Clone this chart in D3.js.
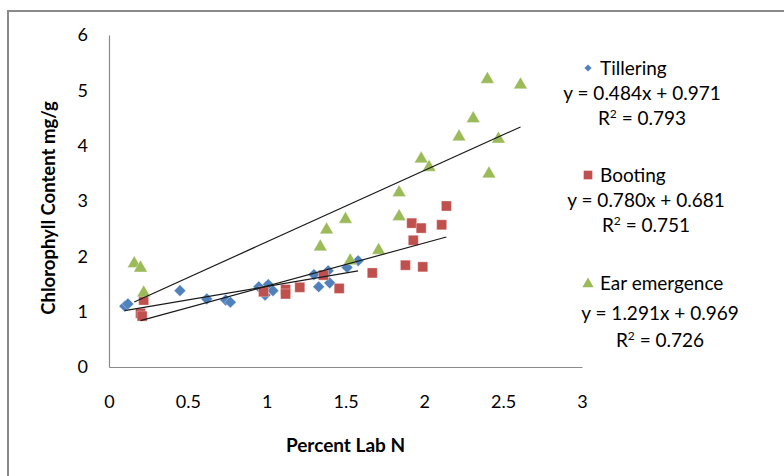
<!DOCTYPE html>
<html>
<head>
<meta charset="utf-8">
<script src="https://cdn.jsdelivr.net/npm/d3@7"></script>
<style>
  body { margin: 0; background: #fff; }
  svg text { font-family: Lato, "Open Sans", sans-serif; fill: #000; }
</style>
</head>
<body>
<div id="chart"></div>
<script>
// series values, [percent lab N, chlorophyll]
const tillering = [
  [0.10, 1.10], [0.12, 1.14], [0.45, 1.38], [0.62, 1.23], [0.74, 1.21],
  [0.77, 1.17], [0.95, 1.45], [1.01, 1.49], [0.99, 1.30], [1.04, 1.38],
  [1.30, 1.67], [1.39, 1.74], [1.33, 1.45], [1.40, 1.52], [1.51, 1.80],
  [1.58, 1.92]
];
const booting = [
  [0.20, 0.97], [0.21, 0.92], [0.22, 1.21], [0.98, 1.36], [1.12, 1.40],
  [1.12, 1.32], [1.21, 1.44], [1.36, 1.66], [1.46, 1.42], [1.67, 1.70],
  [1.88, 1.84], [1.99, 1.81], [1.93, 2.29], [1.92, 2.60], [1.98, 2.51],
  [2.11, 2.57], [2.14, 2.91]
];
const earEmergence = [
  [0.16, 1.87], [0.20, 1.79], [0.22, 1.34], [1.34, 2.17], [1.38, 2.48],
  [1.50, 2.67], [1.53, 1.92], [1.71, 2.11], [1.84, 2.72], [1.84, 3.15],
  [1.98, 3.76], [2.03, 3.61], [2.22, 4.16], [2.31, 4.49], [2.40, 5.20],
  [2.41, 3.49], [2.47, 4.12], [2.61, 5.10]
];
const seriesNames = ["Tillering", "Booting", "Ear emergence"];
const slopes = [0.484, 0.780, 1.291];
const intercepts = [0.971, 0.681, 0.969];
const rSquared = ["0.793", "0.751", "0.726"];
const xTicks = [0, 0.5, 1, 1.5, 2, 2.5, 3];
const yTicks = [0, 1, 2, 3, 4, 5, 6];

const width = 784, height = 476;
const colors = ["#4F81BD", "#C0504D", "#9BBB59"];
// diamond = square turned 45 degrees, like the spreadsheet marker
const shapes = [d3.symbolSquare, d3.symbolSquare, d3.symbolTriangle];
const turn = [45, 0, 0];
const markerSize = [68, 100, 80];
const legendSize = [26, 75, 55];

const svg = d3.select("#chart").append("svg")
  .attr("width", width)
  .attr("height", height);

// outer chart frame (right and bottom edges fall outside the view)
svg.append("rect")
  .attr("x", 8).attr("y", 11)
  .attr("width", 820).attr("height", 520)
  .attr("fill", "none")
  .attr("stroke", "#8a8a8a")
  .attr("stroke-width", 2);

const x = d3.scaleLinear().domain([0, 3]).range([109, 582]);
const y = d3.scaleLinear().domain([0, 6]).range([367, 35]);

// axes
const xAxis = d3.axisBottom(x).tickValues(xTicks).tickSize(0)
  .tickFormat(d3.format("~g"));
const yAxis = d3.axisLeft(y).tickValues(yTicks).tickSize(0).tickPadding(21)
  .tickFormat(d3.format("~g"));

const gx = svg.append("g").attr("transform", `translate(0,${y(0)})`).call(xAxis);
const gy = svg.append("g").attr("transform", `translate(${x(0)},0)`).call(yAxis);
[gx, gy].forEach(g => {
  g.select(".domain").attr("stroke", "#8a8a8a").attr("stroke-width", 1.2);
  g.selectAll("text").style("font-size", "18px").attr("fill", "#000");
});
gx.selectAll("text").attr("dy", "0.35em").attr("y", 35);

// axis titles
svg.append("text")
  .attr("x", (x(0) + x(3)) / 2)
  .attr("y", 445)
  .attr("dy", "0.35em")
  .attr("text-anchor", "middle")
  .style("font-size", "19px")
  .style("font-weight", "bold")
  .text("Percent Lab N");
svg.append("text")
  .attr("transform", "translate(49,208) rotate(-90)")
  .attr("dy", "0.35em")
  .attr("text-anchor", "middle")
  .style("font-size", "18.5px")
  .style("font-weight", "bold")
  .text("Chlorophyll Content mg/g");

// markers, one series after the other
const allSeries = [tillering, booting, earEmergence];
allSeries.forEach((data, i) => {
  svg.append("g").selectAll("path")
    .data(data)
    .enter()
    .append("path")
    .attr("transform", d => `translate(${x(d[0])},${y(d[1])}) rotate(${turn[i]})`)
    .attr("d", d3.symbol().type(shapes[i]).size(markerSize[i]))
    .attr("fill", colors[i])
    .attr("stroke", "#fff")
    .attr("stroke-opacity", 0.4)
    .attr("stroke-width", 0.8);
});

// linear trend lines over the range of each series
allSeries.forEach((data, i) => {
  const ext = d3.extent(data, d => d[0]);
  svg.append("line")
    .attr("x1", x(ext[0])).attr("y1", y(slopes[i] * ext[0] + intercepts[i]))
    .attr("x2", x(ext[1])).attr("y2", y(slopes[i] * ext[1] + intercepts[i]))
    .attr("stroke", "#1a1a1a")
    .attr("stroke-width", 1.2);
});

// legend with trend equations
const legendY = [68, 175, 283];
const eqCenter = [642, 646, 660];
allSeries.forEach((data, i) => {
  const g = svg.append("g");
  g.append("path")
    .attr("transform", `translate(588,${legendY[i] + (i === 2 ? 1 : 0)}) rotate(${turn[i]})`)
    .attr("d", d3.symbol().type(shapes[i]).size(legendSize[i]))
    .attr("fill", colors[i]);
  g.append("text")
    .attr("x", 600).attr("y", legendY[i])
    .attr("dy", "0.35em")
    .style("font-size", "19px")
    .text(seriesNames[i]);
  g.append("text")
    .attr("x", eqCenter[i]).attr("y", legendY[i] + (i === 2 ? 30 : 25))
    .attr("dy", "0.35em")
    .attr("text-anchor", "middle")
    .style("font-size", "19px")
    .text(`y = ${slopes[i].toFixed(3)}x + ${intercepts[i].toFixed(3)}`);
  const r = g.append("text")
    .attr("x", eqCenter[i]).attr("y", legendY[i] + (i === 2 ? 57 : 50))
    .attr("dy", "0.35em")
    .attr("text-anchor", "middle")
    .style("font-size", "19px");
  r.append("tspan").text("R");
  r.append("tspan").attr("baseline-shift", "super").style("font-size", "12px").text("2");
  r.append("tspan").text(" = " + rSquared[i]);
});
</script>
</body>
</html>
